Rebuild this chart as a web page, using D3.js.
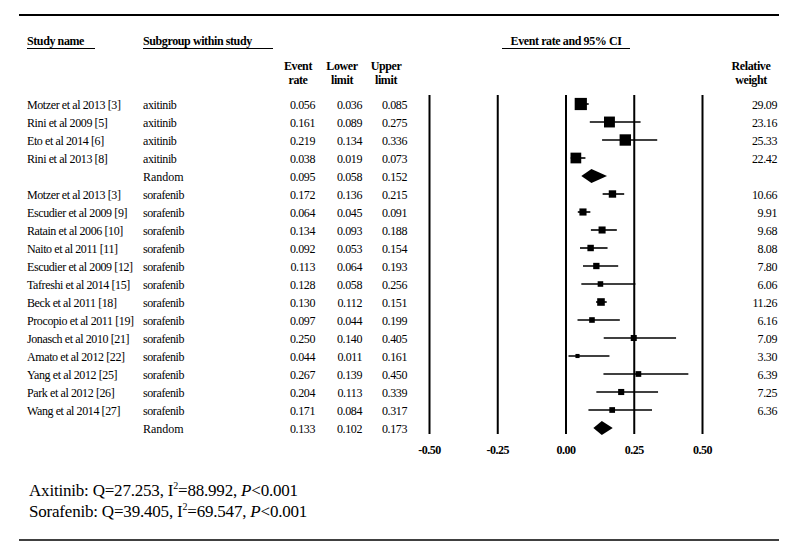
<!DOCTYPE html>
<html>
<head>
<meta charset="utf-8">
<script src="https://cdn.jsdelivr.net/npm/d3@7/dist/d3.min.js"></script>
<style>
  body { margin: 0; background: #fff; }
  text { font-family: "Liberation Serif", "Times New Roman", serif; fill: #000; }
</style>
</head>
<body>
<svg id="chart" width="797" height="558"></svg>
<script>
// rows of the forest plot, top to bottom ("" = pooled row)
const studyNames = [
  'Motzer et al 2013 [3]', 'Rini et al 2009 [5]', 'Eto et al 2014 [6]', 'Rini et al 2013 [8]', '',
  'Motzer et al 2013 [3]', 'Escudier et al 2009 [9]', 'Ratain et al 2006 [10]', 'Naito et al 2011 [11]',
  'Escudier et al 2009 [12]', 'Tafreshi et al 2014 [15]', 'Beck et al 2011 [18]', 'Procopio et al 2011 [19]',
  'Jonasch et al 2010 [21]', 'Amato et al 2012 [22]', 'Yang et al 2012 [25]', 'Park et al 2012 [26]',
  'Wang et al 2014 [27]', ''
];
const subgroups = [
  'axitinib', 'axitinib', 'axitinib', 'axitinib', 'Random',
  'sorafenib', 'sorafenib', 'sorafenib', 'sorafenib', 'sorafenib', 'sorafenib', 'sorafenib',
  'sorafenib', 'sorafenib', 'sorafenib', 'sorafenib', 'sorafenib', 'sorafenib', 'Random'
];
const eventRates = [0.056, 0.161, 0.219, 0.038, 0.095,
  0.172, 0.064, 0.134, 0.092, 0.113, 0.128, 0.130, 0.097, 0.250, 0.044, 0.267, 0.204, 0.171, 0.133];
const lowerLimits = [0.036, 0.089, 0.134, 0.019, 0.058,
  0.136, 0.045, 0.093, 0.053, 0.064, 0.058, 0.112, 0.044, 0.140, 0.011, 0.139, 0.113, 0.084, 0.102];
const upperLimits = [0.085, 0.275, 0.336, 0.073, 0.152,
  0.215, 0.091, 0.188, 0.154, 0.193, 0.256, 0.151, 0.199, 0.405, 0.161, 0.450, 0.339, 0.317, 0.173];
const relWeights = [29.09, 23.16, 25.33, 22.42, null,
  10.66, 9.91, 9.68, 8.08, 7.80, 6.06, 11.26, 6.16, 7.09, 3.30, 6.39, 7.25, 6.36, null];
const xTicks = [-0.50, -0.25, 0.00, 0.25, 0.50];
const hetStats = [
  { drug: 'Axitinib', q: '27.253', i2: '88.992', p: '0.001' },
  { drug: 'Sorafenib', q: '39.405', i2: '69.547', p: '0.001' }
];

const rows = studyNames.map((s, i) => ({
  study: s, sub: subgroups[i], rate: eventRates[i], lo: lowerLimits[i], hi: upperLimits[i],
  w: relWeights[i], pooled: relWeights[i] === null
}));

const svg = d3.select('#chart');
const fmt3 = d3.format('.3f');
const fmt2 = d3.format('.2f');

const x = d3.scaleLinear().domain([-0.5, 0.5]).range([429, 702]);
const y = d3.scalePoint().domain(d3.range(rows.length)).range([104, 428]);
const box = d3.scaleSqrt().domain([0, 30]).range([0, 12.4]);

// frame rules
svg.append('line').attr('x1', 19).attr('x2', 779).attr('y1', 15).attr('y2', 15)
  .attr('stroke', '#000').attr('stroke-width', 2);
svg.append('line').attr('x1', 19).attr('x2', 779).attr('y1', 540).attr('y2', 540)
  .attr('stroke', '#000').attr('stroke-width', 1.5);

// headers
const hdr = svg.append('g').attr('font-weight', 'bold').attr('font-size', 12).attr('letter-spacing', -0.4);
const underlined = [
  { t: 'Study name', x: 27, x2: 95, anchor: 'start' },
  { t: 'Subgroup within study', x: 143, x2: 273, anchor: 'start' },
  { t: 'Event rate and 95% CI', x: 566, x1: 502, x2: 630, anchor: 'middle' }
];
underlined.forEach(h => {
  hdr.append('text').attr('x', h.x).attr('y', 45).attr('text-anchor', h.anchor).text(h.t);
  hdr.append('line').attr('x1', h.x1 !== undefined ? h.x1 : h.x).attr('x2', h.x2)
    .attr('y1', 48.5).attr('y2', 48.5).attr('stroke', '#000').attr('stroke-width', 1);
});
const colHeads = [
  { l: ['Event', 'rate'], x: 298 },
  { l: ['Lower', 'limit'], x: 342 },
  { l: ['Upper', 'limit'], x: 386 },
  { l: ['Relative', 'weight'], x: 751 }
];
colHeads.forEach(c => {
  c.l.forEach((t, k) => {
    hdr.append('text').attr('x', c.x).attr('y', 70 + k * 14).attr('text-anchor', 'middle').text(t);
  });
});

// axis with full-height grid lines
const axis = svg.append('g')
  .attr('transform', 'translate(0,434)')
  .call(d3.axisBottom(x).tickValues(xTicks).tickSize(-339).tickPadding(11)
    .tickFormat(d => fmt2(d).replace('\u2212', '-')));
axis.select('.domain').remove();
axis.selectAll('.tick line').attr('stroke', '#000').attr('stroke-width', 2);
axis.selectAll('.tick text')
  .attr('font-family', '"Liberation Serif", "Times New Roman", serif')
  .attr('font-size', 12).attr('font-weight', 'bold').attr('letter-spacing', -0.5).attr('fill', '#000');

// table rows
const tbl = svg.append('g').attr('font-size', 12).attr('letter-spacing', -0.4);
const row = tbl.selectAll('g.row').data(rows).join('g').attr('class', 'row')
  .attr('transform', (d, i) => `translate(0,${y(i) + 4.5})`);
row.append('text').attr('x', 27).text(d => d.study);
row.append('text').attr('x', 143).attr('letter-spacing', d => d.pooled ? 0 : -0.4).text(d => d.sub);
row.append('text').attr('x', 315).attr('text-anchor', 'end').text(d => fmt3(d.rate));
row.append('text').attr('x', 362).attr('text-anchor', 'end').text(d => fmt3(d.lo));
row.append('text').attr('x', 407).attr('text-anchor', 'end').text(d => fmt3(d.hi));
row.filter(d => !d.pooled).append('text').attr('x', 777).attr('text-anchor', 'end').text(d => fmt2(d.w));

// CI lines and boxes
const studies = rows.map((d, i) => Object.assign({ i }, d)).filter(d => !d.pooled);
const marks = svg.append('g');
marks.selectAll('line.ci').data(studies).join('line').attr('class', 'ci')
  .attr('x1', d => x(d.lo)).attr('x2', d => x(d.hi))
  .attr('y1', d => y(d.i)).attr('y2', d => y(d.i))
  .attr('stroke', '#000').attr('stroke-width', 1.6);
marks.selectAll('rect.box').data(studies).join('rect').attr('class', 'box')
  .attr('x', d => x(d.rate) - box(d.w) / 2).attr('y', d => y(d.i) - box(d.w) / 2)
  .attr('width', d => box(d.w)).attr('height', d => box(d.w)).attr('fill', '#000');

// pooled diamonds
const pooled = rows.map((d, i) => Object.assign({ i }, d)).filter(d => d.pooled);
marks.selectAll('path.diamond').data(pooled).join('path').attr('class', 'diamond')
  .attr('d', d => {
    const cy = y(d.i);
    return `M${x(d.lo)},${cy}L${x(d.rate)},${cy - 7}L${x(d.hi)},${cy}L${x(d.rate)},${cy + 7}Z`;
  })
  .attr('fill', '#000');

// heterogeneity notes
const het = svg.append('g').attr('font-size', 17).attr('letter-spacing', -0.2);
hetStats.forEach((h, k) => {
  const t = het.append('text').attr('x', 29).attr('y', 496 + k * 20.7);
  t.append('tspan').text(`${h.drug}: Q=${h.q}, I`);
  t.append('tspan').attr('font-size', 10).attr('dy', -7).text('2');
  t.append('tspan').attr('dy', 7).text(`=${h.i2}, `);
  t.append('tspan').attr('font-style', 'italic').text('P');
  t.append('tspan').text(`<${h.p}`);
});
</script>
</body>
</html>
